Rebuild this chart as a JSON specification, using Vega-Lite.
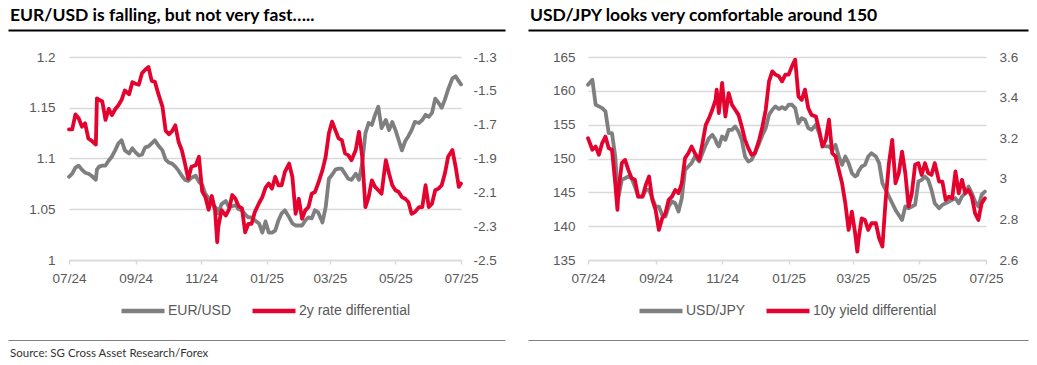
{
 "$schema": "https://vega.github.io/schema/vega-lite/v6.json",
 "background": "white",
 "padding": {"left": 8, "top": 6, "right": 5, "bottom": 2},
 "datasets": {
  "eur": [
   {"date":"2024-07-01","eurusd":1.082,"rd":-1.728},{"date":"2024-07-04","eurusd":1.085,"rd":-1.728},{"date":"2024-07-07","eurusd":1.091,"rd":-1.639},{"date":"2024-07-10","eurusd":1.093,"rd":-1.662},{"date":"2024-07-13","eurusd":1.089,"rd":-1.712},{"date":"2024-07-16","eurusd":1.086,"rd":-1.692},{"date":"2024-07-19","eurusd":1.085,"rd":-1.781},{"date":"2024-07-22","eurusd":1.083,"rd":-1.795},{"date":"2024-07-26","eurusd":1.079,"rd":-1.817},{"date":"2024-07-27","eurusd":1.089,"rd":-1.544},{"date":"2024-07-29","eurusd":1.092,"rd":-1.553},
   {"date":"2024-08-01","eurusd":1.093,"rd":-1.563},{"date":"2024-08-04","eurusd":1.093,"rd":-1.672},{"date":"2024-08-07","eurusd":1.098,"rd":-1.607},{"date":"2024-08-10","eurusd":1.102,"rd":-1.643},{"date":"2024-08-13","eurusd":1.108,"rd":-1.609},{"date":"2024-08-16","eurusd":1.115,"rd":-1.585},{"date":"2024-08-19","eurusd":1.118,"rd":-1.553},{"date":"2024-08-22","eurusd":1.108,"rd":-1.498},{"date":"2024-08-26","eurusd":1.105,"rd":-1.520},{"date":"2024-08-29","eurusd":1.110,"rd":-1.449},
   {"date":"2024-09-01","eurusd":1.106,"rd":-1.458},{"date":"2024-09-04","eurusd":1.103,"rd":-1.464},{"date":"2024-09-07","eurusd":1.104,"rd":-1.395},{"date":"2024-09-10","eurusd":1.111,"rd":-1.375},{"date":"2024-09-13","eurusd":1.112,"rd":-1.359},{"date":"2024-09-16","eurusd":1.115,"rd":-1.441},{"date":"2024-09-19","eurusd":1.118,"rd":-1.447},{"date":"2024-09-22","eurusd":1.113,"rd":-1.514},{"date":"2024-09-26","eurusd":1.108,"rd":-1.593},{"date":"2024-09-29","eurusd":1.099,"rd":-1.736},
   {"date":"2024-10-02","eurusd":1.096,"rd":-1.757},{"date":"2024-10-05","eurusd":1.095,"rd":-1.738},{"date":"2024-10-08","eurusd":1.092,"rd":-1.704},{"date":"2024-10-11","eurusd":1.088,"rd":-1.801},{"date":"2024-10-14","eurusd":1.083,"rd":-1.850},{"date":"2024-10-17","eurusd":1.079,"rd":-1.930},{"date":"2024-10-20","eurusd":1.078,"rd":-2.019},{"date":"2024-10-23","eurusd":1.081,"rd":-1.949},{"date":"2024-10-27","eurusd":1.083,"rd":-1.940},{"date":"2024-10-30","eurusd":1.077,"rd":-1.890},
   {"date":"2024-11-02","eurusd":1.074,"rd":-2.094},{"date":"2024-11-05","eurusd":1.065,"rd":-2.128},{"date":"2024-11-08","eurusd":1.061,"rd":-2.203},{"date":"2024-11-11","eurusd":1.056,"rd":-2.122},{"date":"2024-11-14","eurusd":1.052,"rd":-2.207},{"date":"2024-11-16","eurusd":1.050,"rd":-2.395},{"date":"2024-11-17","eurusd":1.046,"rd":-2.306},{"date":"2024-11-20","eurusd":1.055,"rd":-2.205},{"date":"2024-11-24","eurusd":1.058,"rd":-2.237},{"date":"2024-11-27","eurusd":1.052,"rd":-2.201},{"date":"2024-11-30","eurusd":1.053,"rd":-2.116},
   {"date":"2024-12-03","eurusd":1.054,"rd":-2.138},{"date":"2024-12-06","eurusd":1.050,"rd":-2.183},{"date":"2024-12-09","eurusd":1.049,"rd":-2.193},{"date":"2024-12-12","eurusd":1.045,"rd":-2.336},{"date":"2024-12-15","eurusd":1.042,"rd":-2.286},{"date":"2024-12-18","eurusd":1.042,"rd":-2.286},{"date":"2024-12-21","eurusd":1.039,"rd":-2.217},{"date":"2024-12-25","eurusd":1.036,"rd":-2.163},{"date":"2024-12-28","eurusd":1.027,"rd":-2.128},{"date":"2024-12-31","eurusd":1.038,"rd":-2.072},
   {"date":"2025-01-03","eurusd":1.027,"rd":-2.048},{"date":"2025-01-06","eurusd":1.027,"rd":-2.078},{"date":"2025-01-09","eurusd":1.029,"rd":-2.009},{"date":"2025-01-12","eurusd":1.039,"rd":-2.058},{"date":"2025-01-15","eurusd":1.046,"rd":-2.058},{"date":"2025-01-18","eurusd":1.049,"rd":-1.979},{"date":"2025-01-22","eurusd":1.042,"rd":-1.930},{"date":"2025-01-25","eurusd":1.036,"rd":-2.009},{"date":"2025-01-28","eurusd":1.034,"rd":-2.227},{"date":"2025-01-31","eurusd":1.034,"rd":-2.138},
   {"date":"2025-02-03","eurusd":1.034,"rd":-2.256},{"date":"2025-02-06","eurusd":1.039,"rd":-2.207},{"date":"2025-02-09","eurusd":1.042,"rd":-2.187},{"date":"2025-02-12","eurusd":1.041,"rd":-2.108},{"date":"2025-02-15","eurusd":1.049,"rd":-2.098},{"date":"2025-02-18","eurusd":1.047,"rd":-2.048},{"date":"2025-02-22","eurusd":1.037,"rd":-1.969},{"date":"2025-02-25","eurusd":1.052,"rd":-1.890},{"date":"2025-02-28","eurusd":1.080,"rd":-1.751},
   {"date":"2025-03-03","eurusd":1.084,"rd":-1.682},{"date":"2025-03-06","eurusd":1.089,"rd":-1.732},{"date":"2025-03-09","eurusd":1.090,"rd":-1.781},{"date":"2025-03-12","eurusd":1.090,"rd":-1.791},{"date":"2025-03-15","eurusd":1.085,"rd":-1.870},{"date":"2025-03-18","eurusd":1.080,"rd":-1.880},{"date":"2025-03-21","eurusd":1.079,"rd":-1.910},{"date":"2025-03-25","eurusd":1.085,"rd":-1.850},{"date":"2025-03-28","eurusd":1.079,"rd":-1.742},{"date":"2025-03-31","eurusd":1.095,"rd":-1.890},
   {"date":"2025-04-03","eurusd":1.125,"rd":-2.187},{"date":"2025-04-06","eurusd":1.135,"rd":-2.128},{"date":"2025-04-09","eurusd":1.133,"rd":-2.029},{"date":"2025-04-12","eurusd":1.143,"rd":-2.068},{"date":"2025-04-15","eurusd":1.151,"rd":-2.088},{"date":"2025-04-18","eurusd":1.130,"rd":-2.108},{"date":"2025-04-22","eurusd":1.138,"rd":-1.910},{"date":"2025-04-25","eurusd":1.128,"rd":-1.989},{"date":"2025-04-28","eurusd":1.136,"rd":-2.058},
   {"date":"2025-05-01","eurusd":1.128,"rd":-2.088},{"date":"2025-05-04","eurusd":1.118,"rd":-2.098},{"date":"2025-05-07","eurusd":1.108,"rd":-2.128},{"date":"2025-05-10","eurusd":1.117,"rd":-2.138},{"date":"2025-05-13","eurusd":1.122,"rd":-2.157},{"date":"2025-05-16","eurusd":1.128,"rd":-2.227},{"date":"2025-05-19","eurusd":1.136,"rd":-2.217},{"date":"2025-05-23","eurusd":1.135,"rd":-2.187},{"date":"2025-05-26","eurusd":1.138,"rd":-2.187},{"date":"2025-05-29","eurusd":1.143,"rd":-2.058},
   {"date":"2025-06-01","eurusd":1.141,"rd":-2.187},{"date":"2025-06-04","eurusd":1.145,"rd":-2.167},{"date":"2025-06-07","eurusd":1.159,"rd":-2.088},{"date":"2025-06-10","eurusd":1.155,"rd":-2.078},{"date":"2025-06-13","eurusd":1.150,"rd":-2.058},{"date":"2025-06-16","eurusd":1.158,"rd":-1.989},{"date":"2025-06-19","eurusd":1.168,"rd":-1.890},{"date":"2025-06-23","eurusd":1.179,"rd":-1.850},{"date":"2025-06-26","eurusd":1.181,"rd":-1.949},{"date":"2025-06-29","eurusd":1.176,"rd":-2.068},{"date":"2025-07-01","eurusd":1.173,"rd":-2.048}
  ],
  "jpy": [
   {"date":"2024-07-01","usdjpy":160.90,"yd":3.200},{"date":"2024-07-05","usdjpy":161.64,"yd":3.143},{"date":"2024-07-08","usdjpy":157.94,"yd":3.159},{"date":"2024-07-11","usdjpy":157.70,"yd":3.118},{"date":"2024-07-14","usdjpy":157.45,"yd":3.176},{"date":"2024-07-17","usdjpy":156.96,"yd":3.208},{"date":"2024-07-20","usdjpy":153.75,"yd":3.151},{"date":"2024-07-23","usdjpy":153.75,"yd":3.143},{"date":"2024-07-26","usdjpy":150.30,"yd":2.978},{"date":"2024-07-28","usdjpy":145.36,"yd":2.847},{"date":"2024-07-29","usdjpy":144.38,"yd":2.945},
   {"date":"2024-08-01","usdjpy":146.84,"yd":3.077},{"date":"2024-08-04","usdjpy":147.09,"yd":3.093},{"date":"2024-08-07","usdjpy":147.34,"yd":3.044},{"date":"2024-08-10","usdjpy":147.09,"yd":3.003},{"date":"2024-08-13","usdjpy":145.86,"yd":2.995},{"date":"2024-08-16","usdjpy":144.38,"yd":2.912},{"date":"2024-08-20","usdjpy":144.38,"yd":2.912},{"date":"2024-08-23","usdjpy":145.36,"yd":2.970},{"date":"2024-08-26","usdjpy":145.36,"yd":3.011},{"date":"2024-08-29","usdjpy":144.13,"yd":2.896},
   {"date":"2024-09-01","usdjpy":142.90,"yd":2.847},{"date":"2024-09-04","usdjpy":142.90,"yd":2.748},{"date":"2024-09-07","usdjpy":141.66,"yd":2.805},{"date":"2024-09-10","usdjpy":141.42,"yd":2.830},{"date":"2024-09-13","usdjpy":142.90,"yd":2.896},{"date":"2024-09-16","usdjpy":143.64,"yd":2.912},{"date":"2024-09-19","usdjpy":143.39,"yd":2.945},{"date":"2024-09-22","usdjpy":142.16,"yd":2.929},{"date":"2024-09-25","usdjpy":144.13,"yd":2.978},{"date":"2024-09-28","usdjpy":148.32,"yd":3.102},
   {"date":"2024-10-01","usdjpy":148.82,"yd":3.126},{"date":"2024-10-04","usdjpy":149.31,"yd":3.159},{"date":"2024-10-07","usdjpy":150.30,"yd":3.126},{"date":"2024-10-11","usdjpy":149.56,"yd":3.093},{"date":"2024-10-14","usdjpy":150.79,"yd":3.176},{"date":"2024-10-17","usdjpy":152.02,"yd":3.266},{"date":"2024-10-20","usdjpy":153.01,"yd":3.299},{"date":"2024-10-23","usdjpy":153.50,"yd":3.340},{"date":"2024-10-26","usdjpy":152.76,"yd":3.389},{"date":"2024-10-27","usdjpy":152.27,"yd":3.439},{"date":"2024-10-29","usdjpy":151.78,"yd":3.324},
   {"date":"2024-11-01","usdjpy":153.26,"yd":3.472},{"date":"2024-11-04","usdjpy":152.76,"yd":3.307},{"date":"2024-11-07","usdjpy":154.24,"yd":3.422},{"date":"2024-11-10","usdjpy":154.24,"yd":3.365},{"date":"2024-11-13","usdjpy":154.74,"yd":3.340},{"date":"2024-11-16","usdjpy":154.00,"yd":3.315},{"date":"2024-11-19","usdjpy":152.76,"yd":3.258},{"date":"2024-11-22","usdjpy":150.30,"yd":3.192},{"date":"2024-11-25","usdjpy":149.56,"yd":3.151},{"date":"2024-11-28","usdjpy":149.80,"yd":3.118},
   {"date":"2024-12-01","usdjpy":150.79,"yd":3.126},{"date":"2024-12-05","usdjpy":152.27,"yd":3.192},{"date":"2024-12-08","usdjpy":153.50,"yd":3.258},{"date":"2024-12-11","usdjpy":154.49,"yd":3.340},{"date":"2024-12-14","usdjpy":156.46,"yd":3.480},{"date":"2024-12-17","usdjpy":157.20,"yd":3.529},{"date":"2024-12-20","usdjpy":157.70,"yd":3.513},{"date":"2024-12-23","usdjpy":157.30,"yd":3.505},{"date":"2024-12-26","usdjpy":157.60,"yd":3.480},{"date":"2024-12-29","usdjpy":157.30,"yd":3.513},
   {"date":"2025-01-01","usdjpy":157.94,"yd":3.513},{"date":"2025-01-04","usdjpy":157.94,"yd":3.554},{"date":"2025-01-07","usdjpy":157.45,"yd":3.587},{"date":"2025-01-10","usdjpy":155.23,"yd":3.406},{"date":"2025-01-13","usdjpy":155.97,"yd":3.389},{"date":"2025-01-16","usdjpy":155.72,"yd":3.439},{"date":"2025-01-19","usdjpy":154.49,"yd":3.348},{"date":"2025-01-22","usdjpy":154.24,"yd":3.315},{"date":"2025-01-26","usdjpy":154.98,"yd":3.307},{"date":"2025-01-29","usdjpy":153.75,"yd":3.241},
   {"date":"2025-02-01","usdjpy":152.02,"yd":3.159},{"date":"2025-02-04","usdjpy":151.78,"yd":3.192},{"date":"2025-02-07","usdjpy":151.78,"yd":3.291},{"date":"2025-02-10","usdjpy":151.28,"yd":3.126},{"date":"2025-02-13","usdjpy":152.02,"yd":3.110},{"date":"2025-02-16","usdjpy":150.30,"yd":3.044},{"date":"2025-02-19","usdjpy":149.06,"yd":2.978},{"date":"2025-02-22","usdjpy":150.30,"yd":2.879},{"date":"2025-02-25","usdjpy":149.31,"yd":2.748},{"date":"2025-02-28","usdjpy":147.83,"yd":2.838},
   {"date":"2025-03-03","usdjpy":147.34,"yd":2.731},{"date":"2025-03-05","usdjpy":147.58,"yd":2.641},{"date":"2025-03-06","usdjpy":148.08,"yd":2.699},{"date":"2025-03-09","usdjpy":148.82,"yd":2.805},{"date":"2025-03-12","usdjpy":149.06,"yd":2.797},{"date":"2025-03-15","usdjpy":150.30,"yd":2.748},{"date":"2025-03-18","usdjpy":150.79,"yd":2.781},{"date":"2025-03-22","usdjpy":150.30,"yd":2.781},{"date":"2025-03-25","usdjpy":149.31,"yd":2.707},{"date":"2025-03-28","usdjpy":146.35,"yd":2.666},{"date":"2025-03-31","usdjpy":145.36,"yd":2.896},
   {"date":"2025-04-03","usdjpy":144.38,"yd":3.077},{"date":"2025-04-06","usdjpy":143.39,"yd":3.192},{"date":"2025-04-09","usdjpy":142.40,"yd":2.978},{"date":"2025-04-12","usdjpy":141.66,"yd":3.028},{"date":"2025-04-15","usdjpy":140.92,"yd":3.134},{"date":"2025-04-18","usdjpy":142.90,"yd":3.028},{"date":"2025-04-21","usdjpy":142.65,"yd":2.863},{"date":"2025-04-24","usdjpy":142.90,"yd":2.929},{"date":"2025-04-27","usdjpy":143.14,"yd":3.069},{"date":"2025-04-30","usdjpy":146.60,"yd":3.077},
   {"date":"2025-05-03","usdjpy":146.84,"yd":3.019},{"date":"2025-05-06","usdjpy":147.34,"yd":3.077},{"date":"2025-05-09","usdjpy":146.84,"yd":3.028},{"date":"2025-05-12","usdjpy":145.36,"yd":3.019},{"date":"2025-05-15","usdjpy":143.39,"yd":3.077},{"date":"2025-05-19","usdjpy":142.65,"yd":2.986},{"date":"2025-05-22","usdjpy":143.14,"yd":2.986},{"date":"2025-05-25","usdjpy":143.39,"yd":2.896},{"date":"2025-05-28","usdjpy":143.64,"yd":2.912},{"date":"2025-05-31","usdjpy":143.88,"yd":2.904},
   {"date":"2025-06-03","usdjpy":144.13,"yd":3.036},{"date":"2025-06-06","usdjpy":143.39,"yd":2.929},{"date":"2025-06-09","usdjpy":144.38,"yd":2.995},{"date":"2025-06-12","usdjpy":144.87,"yd":2.929},{"date":"2025-06-15","usdjpy":145.86,"yd":2.945},{"date":"2025-06-18","usdjpy":144.87,"yd":2.912},{"date":"2025-06-21","usdjpy":143.64,"yd":2.830},{"date":"2025-06-24","usdjpy":142.90,"yd":2.797},{"date":"2025-06-27","usdjpy":144.62,"yd":2.879},{"date":"2025-06-30","usdjpy":145.12,"yd":2.904}
  ],
  "line": [{"v": 0}]
 },
 "title": {"text": "Source: SG Cross Asset Research/Forex", "orient": "bottom", "anchor": "start", "font": "Lato", "fontSize": 11.5, "fontWeight": "normal", "color": "#333333", "offset": 7, "dx": 2},
 "spacing": 20,
 "resolve": {"scale": {"x": "independent", "y": "independent", "color": "independent"}, "legend": {"color": "independent"}},
 "vconcat": [
  {
   "spacing": -38,
   "resolve": {"scale": {"x": "independent"}},
   "hconcat": [
    {
     "width": 392, "height": 1,
     "title": {"text": "EUR/USD is falling, but not very fast…..", "anchor": "start", "font": "Lato", "fontSize": 17.5, "fontWeight": "bold", "color": "#000000", "offset": 5, "dx": 2},
     "data": {"name": "line"},
     "mark": {"type": "rule", "opacity": 0},
     "encoding": {"x": {"field": "v", "type": "quantitative", "scale": {"domain": [0, 1], "range": [-61, 436]}, "axis": {"orient": "bottom", "domainColor": "#000000", "domainWidth": 2, "ticks": false, "labels": false, "grid": false, "title": null}}}
    },
    {
     "width": 398, "height": 1,
     "title": {"text": "USD/JPY looks very comfortable around 150", "anchor": "start", "font": "Lato", "fontSize": 17.5, "fontWeight": "bold", "color": "#000000", "offset": 5, "dx": 2},
     "data": {"name": "line"},
     "mark": {"type": "rule", "opacity": 0},
     "encoding": {"x": {"field": "v", "type": "quantitative", "scale": {"domain": [0, 1], "range": [-60, 440]}, "axis": {"orient": "bottom", "domainColor": "#000000", "domainWidth": 2, "ticks": false, "labels": false, "grid": false, "title": null}}}
    }
   ]
  },
  {
   "spacing": 23,
   "resolve": {"scale": {"x": "independent", "y": "independent", "color": "independent"}, "legend": {"color": "independent"}},
   "hconcat": [
    {
     "width": 392, "height": 203,
     "data": {"name": "eur"},
     "encoding": {
      "x": {"field": "date", "type": "temporal",
       "scale": {"type": "utc", "domain": [{"year": 2024, "month": 7, "date": 1, "utc": true}, {"year": 2025, "month": 7, "date": 1, "utc": true}]},
       "axis": {"title": null, "format": "%m/%y", "grid": false, "labelFlush": false, "labelOverlap": false,
        "values": [{"year": 2024, "month": 7, "date": 1, "utc": true}, {"year": 2024, "month": 9, "date": 1, "utc": true}, {"year": 2024, "month": 11, "date": 1, "utc": true}, {"year": 2025, "month": 1, "date": 1, "utc": true}, {"year": 2025, "month": 3, "date": 1, "utc": true}, {"year": 2025, "month": 5, "date": 1, "utc": true}, {"year": 2025, "month": 7, "date": 1, "utc": true}],
        "domainColor": "#d9d9d9", "domainWidth": 1.5, "tickColor": "#d9d9d9", "tickWidth": 1.5, "tickSize": 4, "labelPadding": 7}}
     },
     "layer": [
      {
       "mark": {"type": "line", "strokeWidth": 3.8, "strokeJoin": "round", "strokeCap": "round"},
       "encoding": {
        "y": {"field": "eurusd", "type": "quantitative", "scale": {"domain": [1, 1.2], "zero": false},
         "axis": {"title": null, "values": [1, 1.05, 1.1, 1.15, 1.2], "format": ".2~f", "grid": true, "gridColor": "#d9d9d9", "gridWidth": 1.5, "domain": false, "ticks": false, "labelPadding": 14, "minExtent": 61}},
        "color": {"datum": "EUR/USD", "scale": {"domain": ["EUR/USD", "2y rate differential"], "range": ["#7f7f7f", "#e4032e"]},
         "legend": {"orient": "bottom", "direction": "horizontal", "title": null, "symbolType": "stroke", "symbolSize": 1850, "symbolStrokeWidth": 4.5, "labelFontSize": 14, "columnPadding": 11, "labelOffset": 1, "offset": 2, "padding": 0}}
       }
      },
      {
       "mark": {"type": "line", "strokeWidth": 3.8, "strokeJoin": "round", "strokeCap": "round"},
       "encoding": {
        "y": {"field": "rd", "type": "quantitative", "scale": {"domain": [-2.5, -1.3], "zero": false},
         "axis": {"title": null, "orient": "right", "values": [-2.5, -2.3, -2.1, -1.9, -1.7, -1.5, -1.3], "format": ".1f", "labelExpr": "replace(datum.label, '−', '-')", "grid": false, "domain": false, "ticks": false, "labelPadding": 12, "minExtent": 44}},
        "color": {"datum": "2y rate differential"}
       }
      }
     ],
     "resolve": {"scale": {"y": "independent"}}
    },
    {
     "width": 398, "height": 203,
     "data": {"name": "jpy"},
     "encoding": {
      "x": {"field": "date", "type": "temporal",
       "scale": {"type": "utc", "domain": [{"year": 2024, "month": 7, "date": 1, "utc": true}, {"year": 2025, "month": 7, "date": 1, "utc": true}]},
       "axis": {"title": null, "format": "%m/%y", "grid": false, "labelFlush": false, "labelOverlap": false,
        "values": [{"year": 2024, "month": 7, "date": 1, "utc": true}, {"year": 2024, "month": 9, "date": 1, "utc": true}, {"year": 2024, "month": 11, "date": 1, "utc": true}, {"year": 2025, "month": 1, "date": 1, "utc": true}, {"year": 2025, "month": 3, "date": 1, "utc": true}, {"year": 2025, "month": 5, "date": 1, "utc": true}, {"year": 2025, "month": 7, "date": 1, "utc": true}],
        "domainColor": "#d9d9d9", "domainWidth": 1.5, "tickColor": "#d9d9d9", "tickWidth": 1.5, "tickSize": 4, "labelPadding": 7}}
     },
     "layer": [
      {
       "mark": {"type": "line", "strokeWidth": 3.8, "strokeJoin": "round", "strokeCap": "round"},
       "encoding": {
        "y": {"field": "usdjpy", "type": "quantitative", "scale": {"domain": [135, 165], "zero": false},
         "axis": {"title": null, "values": [135, 140, 145, 150, 155, 160, 165], "format": "d", "grid": true, "gridColor": "#d9d9d9", "gridWidth": 1.5, "domain": false, "ticks": false, "labelPadding": 13, "minExtent": 60}},
        "color": {"datum": "USD/JPY", "scale": {"domain": ["USD/JPY", "10y yield differential"], "range": ["#7f7f7f", "#e4032e"]},
         "legend": {"orient": "bottom", "direction": "horizontal", "title": null, "symbolType": "stroke", "symbolSize": 1850, "symbolStrokeWidth": 4.5, "labelFontSize": 14, "columnPadding": 11, "labelOffset": 1, "offset": 2, "padding": 0}}
       }
      },
      {
       "mark": {"type": "line", "strokeWidth": 3.8, "strokeJoin": "round", "strokeCap": "round"},
       "encoding": {
        "y": {"field": "yd", "type": "quantitative", "scale": {"domain": [2.6, 3.6], "zero": false},
         "axis": {"title": null, "orient": "right", "values": [2.6, 2.8, 3.0, 3.2, 3.4, 3.6], "format": ".1~f", "grid": false, "domain": false, "ticks": false, "labelPadding": 13, "minExtent": 42}},
        "color": {"datum": "10y yield differential"}
       }
      }
     ],
     "resolve": {"scale": {"y": "independent"}}
    }
   ]
  },
  {
   "spacing": -38,
   "resolve": {"scale": {"x": "independent"}},
   "hconcat": [
    {
     "width": 392, "height": 1,
     "data": {"name": "line"},
     "mark": {"type": "rule", "opacity": 0},
     "encoding": {"x": {"field": "v", "type": "quantitative", "scale": {"domain": [0, 1], "range": [-61, 436]}, "axis": {"orient": "bottom", "domainColor": "#808080", "domainWidth": 1, "ticks": false, "labels": false, "grid": false, "title": null, "offset": -1}}}
    },
    {
     "width": 398, "height": 1,
     "data": {"name": "line"},
     "mark": {"type": "rule", "opacity": 0},
     "encoding": {"x": {"field": "v", "type": "quantitative", "scale": {"domain": [0, 1], "range": [-60, 440]}, "axis": {"orient": "bottom", "domainColor": "#808080", "domainWidth": 1, "ticks": false, "labels": false, "grid": false, "title": null, "offset": -1}}}
    }
   ]
  }
 ],
 "config": {
  "view": {"stroke": null},
  "axis": {"labelFont": "Liberation Sans", "labelFontSize": 13.5, "labelColor": "#595959"},
  "legend": {"labelFont": "Liberation Sans", "labelColor": "#595959", "layout": {"bottom": {"anchor": "middle"}}}
 }
}
